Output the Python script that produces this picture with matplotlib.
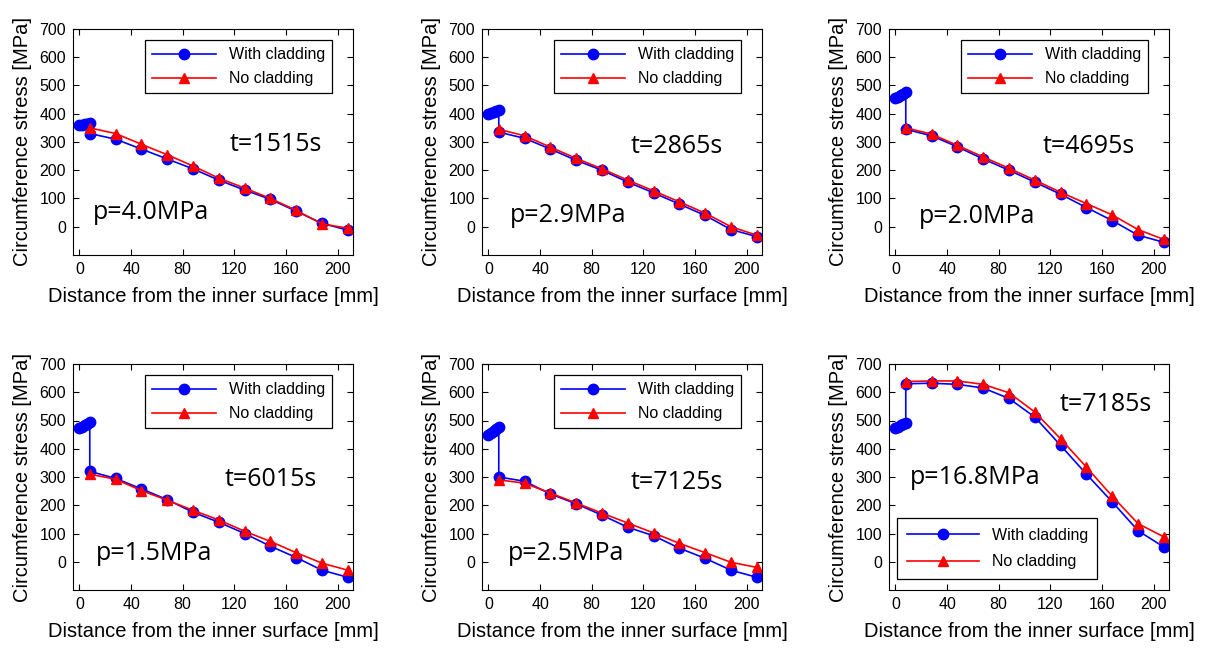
import matplotlib
matplotlib.use("Agg")
import matplotlib.pyplot as plt
import numpy as np

# positions through the wall [mm]
x_clad = [0, 2, 4, 6, 8, 8, 28, 48, 68, 88, 108, 128, 148, 168, 188, 208]
x_base = [8, 28, 48, 68, 88, 108, 128, 148, 168, 188, 208]

# circumference stress [MPa], one list per time step
clad_1515 = [360, 360, 362, 365, 368, 330, 310, 275, 240, 205, 165, 130, 97, 55, 12, -12]
base_1515 = [350, 330, 292, 255, 215, 172, 137, 100, 58, 10, -5]

clad_2865 = [400, 402, 405, 408, 412, 335, 313, 275, 235, 200, 158, 120, 80, 40, -10, -35]
base_2865 = [345, 322, 282, 242, 205, 165, 127, 88, 48, 0, -30]

clad_4695 = [455, 460, 465, 470, 478, 345, 322, 283, 240, 200, 158, 115, 68, 22, -30, -55]
base_4695 = [350, 328, 288, 247, 207, 165, 122, 82, 42, -10, -45]

clad_6015 = [475, 478, 483, 488, 493, 320, 295, 258, 220, 175, 140, 100, 55, 15, -30, -55]
base_6015 = [310, 292, 252, 218, 182, 148, 108, 72, 32, -5, -30]

clad_7125 = [450, 455, 462, 470, 478, 300, 285, 240, 205, 165, 122, 92, 48, 12, -30, -55]
base_7125 = [290, 278, 243, 208, 172, 137, 102, 65, 32, -2, -20]

clad_7185 = [475, 478, 483, 487, 490, 630, 632, 628, 615, 578, 512, 412, 310, 212, 110, 52]
base_7185 = [638, 640, 640, 628, 598, 530, 435, 335, 232, 135, 88]

times = ["t=1515s", "t=2865s", "t=4695s", "t=6015s", "t=7125s", "t=7185s"]
pressures = ["p=4.0MPa", "p=2.9MPa", "p=2.0MPa", "p=1.5MPa", "p=2.5MPa", "p=16.8MPa"]
clad_series = [clad_1515, clad_2865, clad_4695, clad_6015, clad_7125, clad_7185]
base_series = [base_1515, base_2865, base_4695, base_6015, base_7125, base_7185]

# text placement (axes fraction) per panel
t_pos = [(0.56, 0.49), (0.53, 0.48), (0.55, 0.48), (0.54, 0.49), (0.53, 0.475), (0.61, 0.82)]
p_pos = [(0.07, 0.19), (0.10, 0.175), (0.105, 0.17), (0.08, 0.16), (0.094, 0.16), (0.075, 0.50)]

W, H = 1213, 650
col_left = [73, 482, 889]
row_top = [29, 364]
ax_w, ax_h = 280, 226

fig = plt.figure(figsize=(W / 100, H / 100), dpi=100)
plt.rcParams['font.family'] = ['Liberation Sans', 'DejaVu Sans']

for i in range(6):
    r, c = divmod(i, 3)
    left = col_left[c] / W
    bottom = 1 - (row_top[r] + ax_h) / H
    ax = fig.add_axes([left, bottom, ax_w / W, ax_h / H])

    ax.plot(x_clad, clad_series[i], color="#0000ff", lw=1.2, marker="o", ms=7.5,
            label="With cladding")
    ax.plot(x_base, base_series[i], color="#ff0000", lw=1.2, marker="^", ms=6.5,
            label="No cladding")

    ax.set_xlim(-5, 212)
    ax.set_ylim(-100, 700)
    ax.set_xticks(np.arange(0, 201, 40))
    ax.set_yticks(np.arange(0, 701, 100))
    ax.tick_params(direction="in", top=True, right=True, labelsize=11.5, length=4, pad=5)
    ax.set_xlabel("Distance from the inner surface [mm]", fontsize=14.5, labelpad=7)
    ax.set_ylabel("Circumference stress [MPa]", fontsize=14.5, labelpad=5)

    ax.text(t_pos[i][0], t_pos[i][1], times[i], transform=ax.transAxes,
            fontsize=18, va="center", ha="left", family="Open Sans")
    ax.text(p_pos[i][0], p_pos[i][1], pressures[i], transform=ax.transAxes,
            fontsize=18, va="center", ha="left", family="Open Sans")

    if i == 5:
        leg = ax.legend(loc="lower left", bbox_to_anchor=(0.03, 0.05), borderaxespad=0,
                        fontsize=11.5, handlelength=4.5, fancybox=False, framealpha=1,
                        edgecolor="black", borderpad=0.6, labelspacing=0.7)
    else:
        leg = ax.legend(loc="upper right", bbox_to_anchor=(0.925, 0.95), borderaxespad=0,
                        fontsize=11.5, handlelength=4, fancybox=False, framealpha=1,
                        edgecolor="black", borderpad=0.45, labelspacing=0.55)
    leg.get_frame().set_linewidth(0.9)

fig.savefig("out.png", dpi=100)
